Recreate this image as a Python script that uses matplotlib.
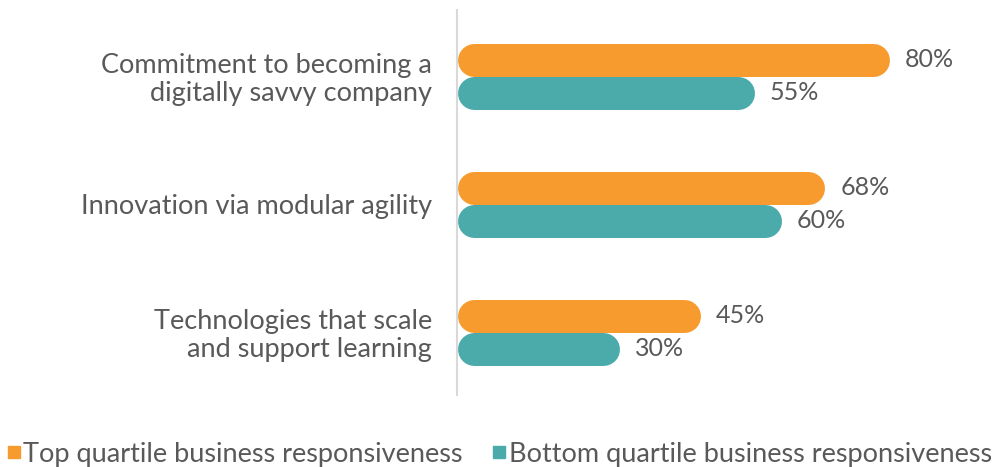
import matplotlib.pyplot as plt
from matplotlib.lines import Line2D

# Chart data
categories = [
    "Commitment to becoming a\ndigitally savvy company",
    "Innovation via modular agility",
    "Technologies that scale\nand support learning",
]
top_quartile = [80, 68, 45]
bottom_quartile = [55, 60, 30]
series_names = ["Top quartile business responsiveness",
                "Bottom quartile business responsiveness"]

ORANGE = "#F79B2E"
TEAL = "#4BAAAA"
TEXT = "#595959"
FS = 19.5

plt.rcParams["font.family"] = ["Lato", "DejaVu Sans"]

W, H = 999, 467
fig = plt.figure(figsize=(W / 100, H / 100), dpi=100)

# axes placed in pixel terms: left edge = vertical grey line
ax_left, ax_right, ax_top, ax_bot = 457, 995, 10, 395
ax = fig.add_axes([ax_left / W, 1 - ax_bot / H,
                   (ax_right - ax_left) / W, (ax_bot - ax_top) / H])

px_per_pct = 5.4
ax.set_xlim(0, (ax_right - ax_left) / px_per_pct)
group_px = 128.0
first_px = 66.0
ax.set_ylim((ax_bot - ax_top - first_px) / group_px, -first_px / group_px)

bar_px = 33.0
lw_pt = bar_px * 72 / 100
r = (bar_px / 2) / px_per_pct       # cap radius in % units
off = (bar_px / 2) / group_px       # half-bar offset in y units

for i, (t, b) in enumerate(zip(top_quartile, bottom_quartile)):
    for val, dy, col in ((t, -off, ORANGE), (b, off, TEAL)):
        ax.plot([r, val - r], [i + dy, i + dy], color=col, lw=lw_pt,
                solid_capstyle="round")
        ax.text(val + 16 / px_per_pct, i + dy, f"{val}%", ha="left",
                va="center", fontsize=18, color=TEXT)

ax.set_yticks(range(len(categories)))
ax.set_yticklabels(categories, fontsize=FS, color=TEXT, linespacing=1.15)
ax.tick_params(axis="y", length=0, pad=18)
ax.set_xticks([])
for s in ("top", "right", "bottom"):
    ax.spines[s].set_visible(False)
ax.spines["left"].set_color("#D9D9D9")
ax.spines["left"].set_linewidth(1.5)
for lbl in ax.get_yticklabels():
    lbl.set_horizontalalignment("right")
    lbl.set_multialignment("right")

handles = [Line2D([], [], marker="s", ls="", color=c, markersize=8.6)
           for c in (ORANGE, TEAL)]
fig.legend(handles, series_names, loc="lower center", ncol=2,
           bbox_to_anchor=(0.5, -0.04), frameon=False, fontsize=FS,
           handlelength=0.5, handletextpad=0.1, columnspacing=1.1,
           labelcolor=TEXT, borderpad=0.2)

fig.savefig("out.png", dpi=100)
